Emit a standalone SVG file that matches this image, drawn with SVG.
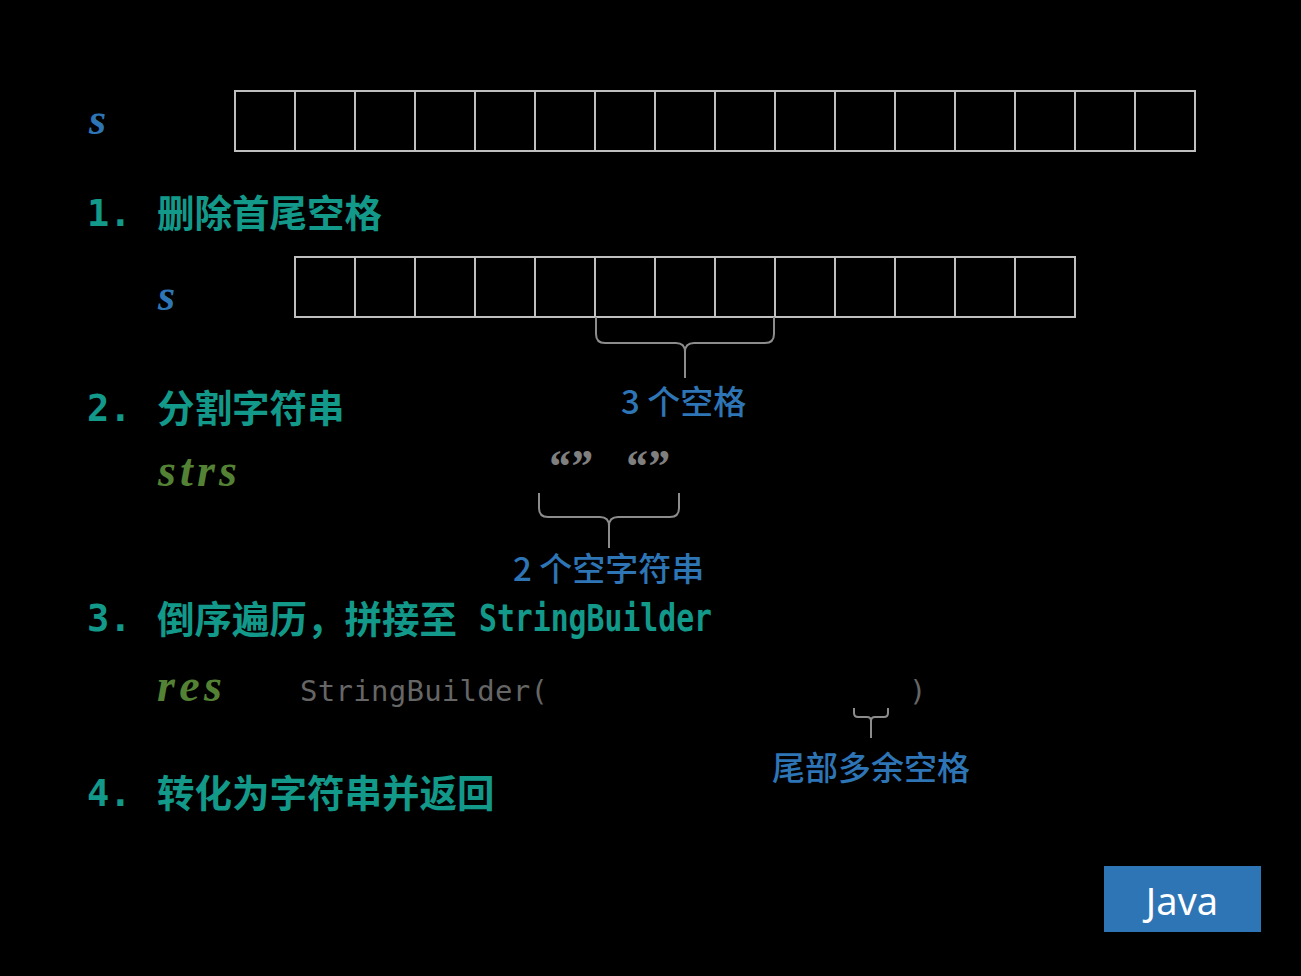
<svg xmlns="http://www.w3.org/2000/svg" width="1301" height="976" viewBox="0 0 1301 976">
<style>
.cell{fill:none;stroke:#bfbfbf;stroke-width:2}
.brace{fill:none;stroke:#8c8c8c;stroke-width:2}
.var{font-family:"Liberation Serif","DejaVu Serif",serif;font-style:italic;font-weight:bold}
.step{font-family:"Noto Sans CJK SC","Noto Sans",sans-serif;font-weight:bold;fill:#12998a;font-size:37.5px}
.num{font-family:"DejaVu Sans Mono","Liberation Mono",monospace;font-weight:bold;fill:#12998a;font-size:37px}
.note{font-family:"Noto Sans CJK SC","Noto Sans",sans-serif;font-weight:500;fill:#2e75b6;font-size:33px}
.mono{font-family:"DejaVu Sans Mono","Liberation Mono",monospace;fill:#666666;font-size:29px}
</style>
<rect width="1301" height="976" fill="#000"/>
<g id="array-s">
<text class="var" x="89" y="134" font-size="44" fill="#2e75b6">s</text>
<rect class="cell" x="235" y="91" width="960" height="60"/>
<path class="cell" d="M295 91V151M355 91V151M415 91V151M475 91V151M535 91V151M595 91V151M655 91V151M715 91V151M775 91V151M835 91V151M895 91V151M955 91V151M1015 91V151M1075 91V151M1135 91V151"/>
</g>
<g id="step1">
<text class="num" x="87" y="226">1.</text>
<text class="step" x="157" y="227">删除首尾空格</text>
</g>
<g id="array-s2">
<text class="var" x="158" y="310" font-size="44" fill="#2e75b6">s</text>
<rect class="cell" x="295" y="257" width="780" height="60"/>
<path class="cell" d="M355 257V317M415 257V317M475 257V317M535 257V317M595 257V317M655 257V317M715 257V317M775 257V317M835 257V317M895 257V317M955 257V317M1015 257V317"/>
</g>
<g id="connectors">
<path class="brace" d="M596 317V334Q596 343 605 343H676Q685 343 685 352V378M685 352Q685 343 694 343H765Q774 343 774 334V317"/>
<path class="brace" d="M539 493V508Q539 517 548 517H600Q609 517 609 526V548M609 526Q609 517 618 517H670Q679 517 679 508V493"/>
<path class="brace" d="M854 708V713Q854 717 858 717H867Q871 717 871 721V738M871 721Q871 717 875 717H884Q888 717 888 713V708"/>
</g>
<g id="label-3spaces">
<text class="note" x="621" y="414">3 个空格</text>
</g>
<g id="step2">
<text class="num" x="87" y="421">2.</text>
<text class="step" x="157" y="422">分割字符串</text>
</g>
<g id="strs">
<text class="var" x="158" y="486" font-size="46" fill="#548235" textLength="79" lengthAdjust="spacing">strs</text>
<text class="var" x="547" y="482" font-size="46" fill="#7f7f7f" textLength="45" lengthAdjust="spacing">“”</text>
<text class="var" x="624" y="482" font-size="46" fill="#7f7f7f" textLength="45" lengthAdjust="spacing">“”</text>
</g>
<g id="label-2empty">
<text class="note" x="513" y="581">2 个空字符串</text>
</g>
<g id="step3">
<text class="num" x="87" y="631">3.</text>
<text class="step" x="157" y="633">倒序遍历，拼接至</text>
<text class="num" x="479" y="631" font-size="29" textLength="233" lengthAdjust="spacingAndGlyphs">StringBuilder</text>
</g>
<g id="res">
<text class="var" x="157" y="701" font-size="46" fill="#548235" textLength="65" lengthAdjust="spacing">res</text>
<text class="mono" x="300" y="701" textLength="248" lengthAdjust="spacing">StringBuilder(</text>
<text class="mono" x="909" y="701">)</text>
</g>
<g id="label-trailing">
<text class="note" x="772" y="780">尾部多余空格</text>
</g>
<g id="step4">
<text class="num" x="87" y="806">4.</text>
<text class="step" x="157" y="807">转化为字符串并返回</text>
</g>
<g id="java-badge">
<rect x="1104" y="866" width="157" height="66" fill="#2e75b6"/>
<text x="1182" y="915" text-anchor="middle" font-family="Noto Sans, sans-serif" font-size="38" fill="#ffffff">Java</text>
</g>
</svg>
